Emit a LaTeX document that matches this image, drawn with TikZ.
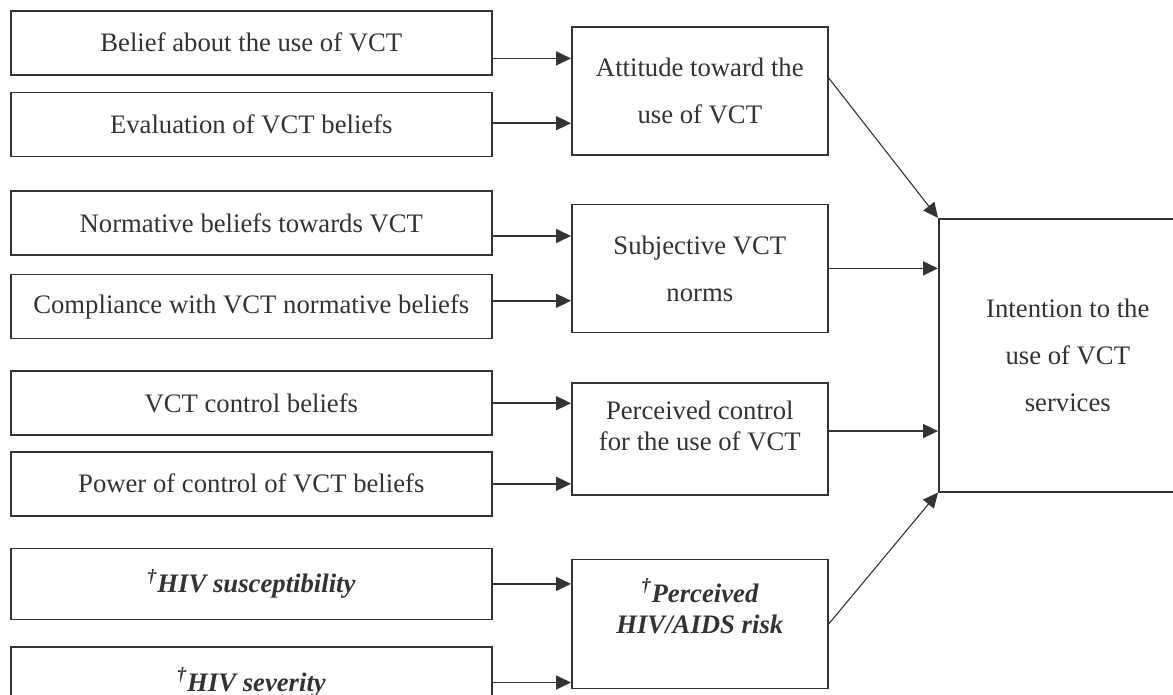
\documentclass[tikz,border=0pt]{standalone}
\usepackage{fontspec}
\setmainfont{Liberation Serif}
\usepackage{xcolor}
\usepackage{tikz}
\usetikzlibrary{positioning}
\usetikzlibrary{calc}
\usetikzlibrary{arrows.meta}

\definecolor{ink}{HTML}{333333}

\tikzset{
  box/.style={draw=ink, line width=0.8pt, rectangle, anchor=north west,
    inner sep=0pt, text=ink, align=center},
  onefont/.style={font=\fontsize{13.35}{15.3}\selectfont},
  twofont/.style={font=\fontsize{13.35}{23.5}\selectfont},
  riskfont/.style={font=\fontsize{13.35}{15.5}\selectfont\bfseries\itshape},
  leftbox/.style={box, onefont, minimum width=240.5pt, minimum height=32pt},
  midbox/.style={box, twofont, minimum width=128pt, minimum height=64pt},
  conn/.style={draw=ink, line width=0.8pt, -{Triangle[length=7.5pt, width=7pt]}},
  slant/.style={conn, line width=0.55pt},
}

\begin{document}
\begin{tikzpicture}[x=0.5pt, y=-0.5pt]

  \useasboundingbox (0,0) rectangle (1173,695);

  % Define nodes
  \node[leftbox] (belief) at (10,10) {Belief about the use of VCT};
  \node[leftbox, below=8pt of belief] (evalb) {Evaluation of VCT beliefs};
  \node[leftbox, below=16.5pt of evalb] (normb) {Normative beliefs towards VCT};
  \node[leftbox, below=9pt of normb] (compl) {Compliance with VCT normative beliefs};
  \node[leftbox, below=15.5pt of compl] (ctrlb) {VCT control beliefs};
  \node[leftbox, below=7.5pt of ctrlb] (power) {Power of control of VCT beliefs};
  \node[leftbox, riskfont, minimum height=35.5pt, below=15.5pt of power] (susc) {\textsuperscript{†}HIV susceptibility};
  \node[leftbox, riskfont, minimum height=35.5pt, below=13pt of susc] (sev) {\textsuperscript{†}HIV severity};

  \node[midbox] (att) at (571,26) {Attitude toward the\\use of VCT};
  \node[midbox, below=24pt of att] (subj) {Subjective VCT\\norms};
  \node[midbox, minimum height=56pt, below=24.5pt of subj,
    label={[onefont, text=ink, align=center, yshift=6.5pt]center:Perceived control\\for the use of VCT}] (pbc) {};
  \node[midbox, minimum height=64.5pt, below=31.5pt of pbc,
    label={[riskfont, text=ink, align=center, yshift=9pt]center:\textsuperscript{†}Perceived\\HIV/AIDS risk}] (risk) {};

  \node[box, twofont, minimum width=129pt, minimum height=136.5pt] (intent) at (938,218) {Intention to the\\use of VCT\\services};

  % Connect nodes
  \coordinate (att-a) at ($(att.north west)!0.25!(att.south west)$);
  \coordinate (att-b) at ($(att.north west)!0.75!(att.south west)$);
  \coordinate (subj-a) at ($(subj.north west)!0.25!(subj.south west)$);
  \coordinate (subj-b) at ($(subj.north west)!0.75!(subj.south west)$);
  \coordinate (att-out) at ($(att.north east)!0.4!(att.south east)$);
  \coordinate (pbc-out) at ($(pbc.north east)!0.43!(pbc.south east)$);

  \draw[conn] (belief.east |- att-a) -- (att-a);
  \draw[conn] (evalb.east |- att-b) -- (att-b);
  \draw[conn] (normb.east |- subj-a) -- (subj-a);
  \draw[conn] (compl.east |- subj-b) -- (subj-b);
  \draw[conn] (ctrlb.east) -- (ctrlb.east -| pbc.west);
  \draw[conn] (power.east) -- (power.east -| pbc.west);
  \draw[conn] (susc.east) -- (susc.east -| risk.west);
  \draw[conn] (sev.east) -- (sev.east -| risk.west);

  \draw[slant] (att-out) -- (intent.north west);
  \draw[conn] (subj.east) -- (subj.east -| intent.west);
  \draw[conn] (pbc-out) -- (pbc-out -| intent.west);
  \draw[slant] (risk.east) -- (intent.south west);

\end{tikzpicture}
\end{document}
